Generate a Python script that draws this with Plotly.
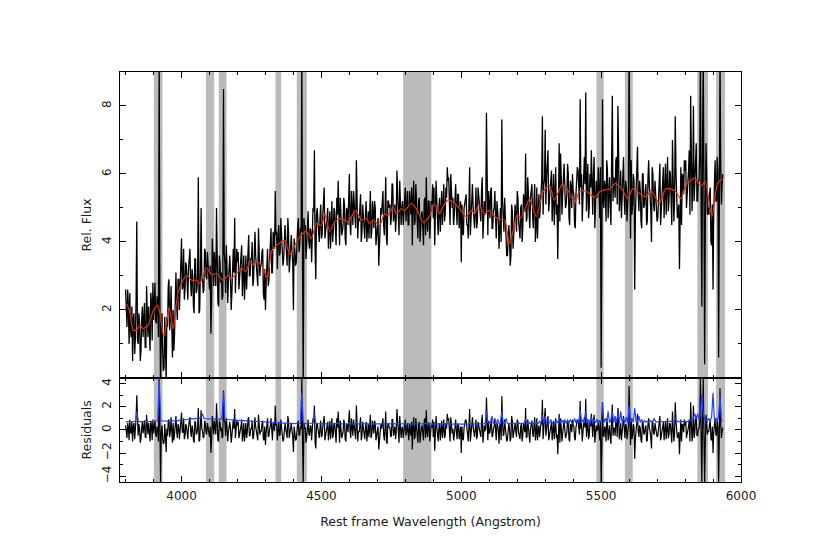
import plotly.graph_objects as go
from plotly.subplots import make_subplots

# spectrum sampling (Angstrom)
WAVE_START = 3800
PIX_STEP = 2.5   # flux / residual pixels
ERR_STEP = 5     # error spectrum pixels

# observed relative flux, 3800..5935 A in 2.5 A steps (one row = 100 A)
flux = [
    2.6, 1.7, 1.5, 2.6, 2.1, 1.0, 2.5, 1.4, 1.2, 2.1, 0.5, 1.7, 1.9, 0.7, 1.2, 2.3, 4.6, 1.1, 1.0, 1.9, 1.6, 0.5, 0.8, 1.7, 2.1, 1.2, 1.7, 2.2, 0.9, 0.9, 2.7, 1.3, 1.2, 2.1, 1.5, 0.8, 2.5, 2.2, 1.1, 2.8,
    1.7, 2.7, 2.8, 1.7, 1.6, 2.4, 2.2, 1.2, 9.5, 2.4, -0.5, 1.5, 1.9, 0.8, 0.2, 0.3, 1.8, 1.0, -0.1, 1.8, 1.5, 2.7, 2.9, 1.4, 1.7, 2.7, 0.9, 0.6, 2.0, 0.8, 1.3, 2.2, 3.1, 2.1, 1.7, 2.9, 2.9, 2.0, 2.7, 3.0,
    4.1, 2.6, 2.7, 3.8, 2.3, 2.6, 3.4, 3.3, 2.6, 2.3, 3.2, 3.4, 3.8, 2.8, 2.4, 3.2, 3.0, 2.1, 1.9, 3.5, 3.5, 2.5, 2.6, 3.0, 5.9, 1.9, 2.0, 3.2, 5.0, 3.0, 2.9, 2.5, 2.6, 3.8, 3.7, 3.0, 2.9, 3.7, 3.3, 2.6,
    2.6, 3.3, 1.3, 2.3, 4.1, 3.5, 2.7, 3.7, 3.2, 2.7, 5.0, 3.1, 2.2, 2.1, 3.6, 3.4, 2.8, 3.1, 2.3, 2.4, 8.5, 3.7, 3.4, 2.5, 3.9, 3.3, 2.2, 2.8, 3.3, 3.6, 3.0, 2.0, 2.5, 3.3, 3.8, 3.1, 4.7, 2.5, 3.5, 3.8,
    3.4, 3.7, 2.6, 2.9, 3.4, 3.5, 3.9, 2.4, 2.9, 3.6, 2.3, 3.0, 3.6, 2.6, 3.1, 4.0, 4.2, 3.0, 3.0, 3.5, 3.5, 4.0, 2.7, 2.9, 3.9, 4.3, 3.6, 3.2, 2.9, 2.7, 4.4, 3.7, 3.0, 3.3, 3.3, 3.7, 3.8, 2.5, 2.3, 3.2,
    2.0, 2.8, 3.5, 3.8, 2.7, 2.9, 3.5, 3.8, 4.4, 3.1, 3.1, 4.3, 4.1, 3.8, 5.5, 4.2, 4.3, 3.2, 4.1, 4.5, 3.6, 3.7, 4.7, 4.2, 3.9, 3.3, 3.5, 4.4, 4.5, 4.1, 3.6, 3.3, 4.7, 4.3, 3.1, 3.4, 3.9, 4.2, 3.7, 3.4,
    2.0, 4.1, 3.8, 3.3, 3.4, 4.4, 4.4, 4.7, 3.7, 3.9, 4.4, 4.3, 9.5, 3.5, -0.3, 4.7, 4.4, 4.5, 3.5, 3.9, 4.8, 4.9, 4.0, 3.8, 4.4, 4.3, 3.4, 4.0, 5.0, 4.9, 6.7, 3.7, 2.9, 4.8, 5.0, 4.6, 4.2, 4.0, 4.7, 5.1,
    4.1, 4.2, 4.8, 5.1, 5.6, 4.1, 4.5, 4.5, 4.7, 5.0, 3.8, 4.6, 4.9, 3.8, 4.3, 5.2, 4.0, 4.3, 5.0, 4.9, 4.4, 3.9, 5.3, 4.8, 5.8, 4.5, 3.9, 5.3, 4.8, 4.2, 4.3, 4.5, 5.3, 5.1, 4.1, 3.9, 5.0, 4.9, 4.5, 5.2,
    6.0, 4.5, 4.2, 5.5, 4.9, 4.5, 5.5, 5.1, 4.7, 4.4, 6.4, 5.3, 4.1, 4.7, 4.6, 5.0, 5.4, 4.0, 4.3, 5.1, 4.7, 4.4, 4.1, 4.8, 5.2, 4.0, 4.8, 4.9, 4.1, 4.6, 5.5, 4.1, 4.3, 5.2, 4.6, 4.4, 5.2, 5.0, 3.9, 4.1,
    4.3, 4.7, 3.3, 3.9, 4.1, 5.0, 4.8, 5.3, 5.5, 4.5, 4.2, 4.9, 5.9, 4.1, 3.9, 5.2, 5.2, 5.0, 5.1, 4.5, 4.7, 5.7, 5.7, 4.6, 4.8, 5.1, 4.3, 4.7, 6.1, 5.4, 4.6, 4.2, 5.8, 5.3, 4.5, 5.0, 5.2, 4.5, 4.9, 5.5,
    5.6, 4.6, 4.9, 5.5, 4.5, 4.5, 5.5, 5.0, 4.8, 5.6, 3.9, 5.3, 5.8, 4.5, 4.6, 5.7, 5.1, 4.7, 4.1, 5.2, 5.3, 4.0, 4.5, 4.8, 4.9, 4.4, 3.9, 5.2, 5.3, 4.2, 5.9, 4.6, 4.3, 5.2, 5.2, 4.1, 4.6, 5.2, 5.1, 5.7,
    4.7, 5.6, 3.9, 4.8, 5.8, 5.2, 4.6, 4.2, 5.0, 5.3, 4.3, 4.8, 5.5, 4.5, 5.0, 5.7, 4.6, 4.8, 5.6, 5.3, 6.2, 5.8, 5.9, 4.8, 4.5, 6.0, 5.5, 5.0, 5.3, 4.5, 4.8, 5.4, 5.7, 5.0, 4.5, 5.4, 5.4, 4.4, 4.8, 5.2,
    3.4, 5.1, 4.3, 4.2, 5.0, 5.2, 5.4, 5.4, 4.5, 4.5, 4.1, 4.9, 6.2, 4.2, 4.8, 5.4, 5.7, 5.0, 4.5, 4.4, 4.9, 5.6, 4.4, 4.6, 5.6, 5.3, 5.3, 4.9, 4.6, 5.5, 5.9, 4.1, 4.6, 5.2, 4.8, 4.9, 7.8, 4.4, 4.2, 5.5,
    4.7, 4.7, 5.5, 5.6, 4.4, 4.4, 4.9, 5.0, 5.5, 4.1, 4.1, 5.2, 5.0, 4.6, 3.8, 5.0, 5.0, 4.0, 7.6, 5.2, 4.3, 4.3, 5.3, 4.7, 4.4, 3.6, 3.6, 4.5, 4.5, 4.1, 3.3, 3.6, 5.1, 4.9, 3.8, 4.2, 4.8, 5.1, 4.7, 4.3,
    5.5, 5.3, 4.6, 4.4, 4.1, 5.0, 5.1, 4.0, 4.4, 5.4, 5.2, 4.9, 6.6, 4.6, 4.7, 5.9, 5.3, 4.9, 4.4, 5.3, 5.7, 5.7, 4.8, 4.4, 5.2, 5.7, 4.0, 4.5, 5.6, 4.1, 4.9, 5.4, 4.7, 5.2, 5.8, 5.8, 7.7, 4.8, 5.7, 5.8,
    7.3, 5.1, 5.9, 6.2, 6.7, 4.9, 5.3, 5.4, 5.7, 6.1, 4.6, 5.6, 6.0, 4.5, 5.2, 6.2, 4.8, 5.1, 3.5, 6.0, 6.9, 4.6, 6.6, 5.9, 4.8, 5.4, 6.0, 6.3, 5.7, 5.0, 5.1, 5.4, 6.3, 6.0, 4.7, 4.5, 5.8, 5.6, 5.0, 6.0,
    5.5, 5.4, 4.5, 4.4, 5.4, 5.8, 6.2, 6.1, 5.2, 5.1, 8.2, 5.6, 6.0, 4.6, 5.3, 6.0, 6.5, 5.7, 8.4, 4.9, 5.6, 6.3, 4.7, 5.0, 6.0, 5.6, 6.7, 5.2, 4.8, 6.0, 6.5, 4.4, 5.0, 5.8, 5.3, 5.5, 6.2, 4.8, 4.7, 6.2,
    0.3, 4.0, 8.2, 5.2, 5.0, 5.8, 5.6, 4.6, 6.4, 6.1, 4.7, 5.4, 5.9, 5.0, 4.5, 6.4, 8.3, 5.2, 5.9, 5.8, 5.3, 6.4, 6.5, 5.1, 8.0, 6.6, 4.9, 5.3, 6.1, 4.7, 5.2, 5.9, 6.5, 5.3, 4.8, 5.8, 5.6, 4.6, 5.2, 5.6,
    9.5, 5.2, 4.1, 6.4, 4.8, 5.1, 6.0, 5.8, 2.6, 4.8, 5.8, 6.0, 6.8, 5.4, 4.9, 5.8, 5.5, 4.6, 4.4, 6.0, 6.0, 5.0, 5.1, 5.5, 5.7, 4.5, 4.6, 5.9, 6.4, 5.6, 5.4, 4.9, 4.0, 6.2, 6.0, 5.1, 4.9, 5.8, 5.4, 4.6,
    4.6, 4.7, 5.4, 5.7, 6.3, 4.5, 5.0, 5.2, 5.7, 6.2, 4.7, 5.8, 6.3, 4.8, 5.5, 6.5, 4.9, 5.2, 6.1, 6.0, 5.3, 4.5, 7.0, 5.7, 4.6, 5.2, 7.7, 6.1, 5.5, 4.7, 4.9, 5.1, 3.2, 5.9, 6.2, 4.5, 6.0, 5.9, 5.4, 6.4,
    6.1, 6.4, 5.0, 5.3, 5.9, 6.1, 6.7, 4.8, 8.3, 6.4, 4.9, 5.7, 8.0, 5.2, 5.7, 6.7, 6.9, 5.2, 5.2, 5.8, 5.8, 6.5, 9.5, 5.1, 2.1, 6.8, 9.5, 5.5, 0.4, 4.8, 6.9, 5.8, 4.8, 5.0, 4.8, 5.4, 5.6, 4.0, 3.9, 5.1,
    2.6, 4.9, 6.4, 6.4, 5.2, 5.2, 6.5, 6.0, 0.6, 4.9, 9.5, 6.3, 5.1, 5.7, 6.0,
]

# normalised residuals on the same 2.5 A grid
resid = [
    0.4, -0.5, -0.7, 0.6, 0.2, -0.9, 0.9, -0.2, -0.3, 0.7, -1.0, 0.3, 0.6, -0.8, -0.2, 1.0, 3.0, -0.4, -0.5, 0.5, 0.1, -1.1, -0.8, 0.2, 0.7, -0.3, 0.3, 0.8, -0.6, -0.7, 1.3, -0.2, -0.4, 0.6, -0.1, -1.0, 0.8, 0.4, -0.9, 0.9,
    -0.3, 0.7, 0.8, -0.4, -0.6, 0.3, 0.1, -1.0, 4.6, 0.6, -4.6, -0.2, 0.4, -0.7, -1.2, -1.1, 0.5, -0.5, -1.9, 0.1, -0.5, 0.8, 0.9, -0.6, -0.2, 1.1, -0.8, -1.1, 0.6, -0.9, -0.4, 0.4, 1.2, -0.1, -0.7, 0.5, 0.3, -0.8, -0.1, 0.3,
    1.5, -0.2, -0.2, 1.0, -0.8, -0.5, 0.5, 0.3, -0.5, -0.8, 0.3, 0.6, 1.1, -0.1, -0.6, 0.4, 0.1, -0.9, -1.1, 0.7, 0.7, -0.4, -0.3, 0.2, 1.9, -1.0, -0.9, 0.5, 1.7, 0.1, -0.1, -0.7, -0.6, 0.8, 0.6, -0.3, -0.4, 0.6, 0.2, -0.6,
    -0.6, 0.3, -2.0, -0.9, 1.2, 0.5, -0.4, 0.8, 0.2, -0.4, 2.3, 0.1, -0.9, -1.0, 0.8, 0.6, -0.1, 0.2, -0.7, -0.6, 3.4, 0.9, 0.6, -0.5, 1.0, 0.3, -1.0, -0.2, 0.4, 0.7, 0.1, -1.1, -0.5, 0.4, 0.9, 0.1, 1.8, -0.7, 0.5, 0.8,
    0.4, 0.7, -0.7, -0.4, 0.2, 0.3, 0.9, -1.0, -0.3, 0.6, -1.0, -0.2, 0.6, -0.7, -0.2, 0.9, 1.1, -0.5, -0.5, 0.1, 0.1, 0.8, -0.8, -0.6, 0.7, 1.1, 0.3, -0.3, -0.6, -0.9, 1.3, 0.4, -0.4, -0.1, -0.1, 0.5, 0.8, -0.8, -0.9, 0.3,
    -1.3, -0.2, 0.8, 1.0, -0.6, -0.5, 0.1, 0.3, 1.0, -0.8, -0.9, 0.6, 0.4, -0.1, 2.1, 0.4, 0.5, -0.9, 0.2, 0.7, -0.5, -0.4, 0.9, 0.2, -0.2, -1.0, -0.8, 0.5, 0.6, 0.1, -0.4, -0.7, 1.2, 0.8, -0.7, -0.3, 0.3, 0.6, -0.1, -0.6,
    -1.9, 0.3, -0.2, -0.9, -0.8, 0.5, 0.5, 0.8, -0.5, -0.4, 0.3, 0.1, 4.6, -1.0, -4.6, 0.6, 0.1, 0.2, -1.1, -0.6, 0.7, 0.9, -0.3, -0.5, 0.4, 0.3, -0.9, -0.2, 1.0, 0.7, 2.1, -1.1, -1.6, 0.4, 0.6, 0.1, -0.4, -0.7, 0.2, 0.8,
    -0.6, -0.5, 0.3, 0.6, 1.2, -0.9, -0.4, -0.2, 0.2, 0.7, -0.9, 0.3, 0.8, -0.8, -0.1, 1.0, -0.7, -0.4, 0.6, 0.5, -0.3, -1.1, 1.0, 0.2, 1.6, -0.3, -1.1, 0.8, 0.1, -0.7, -0.5, -0.2, 0.9, 0.6, -0.8, -1.0, 0.5, 0.4, -0.2, 0.9,
    1.7, -0.2, -0.7, 1.0, 0.2, -0.5, 0.9, 0.3, -0.3, -0.8, 2.1, 0.6, -1.0, -0.1, -0.2, 0.4, 1.1, -0.9, -0.5, 0.7, 0.1, -0.4, -0.8, 0.2, 0.7, -1.0, 0.3, 0.5, -0.6, 0.1, 1.3, -0.7, -0.4, 0.8, -0.1, -0.3, 0.8, 0.6, -0.9, -0.6,
    -0.3, 0.3, -1.7, -0.9, -0.6, 0.5, 0.1, 0.8, 1.0, -0.4, -0.9, 0.1, 1.6, -1.0, -1.2, 0.6, 0.5, 0.2, 0.2, -0.6, -0.5, 0.9, 0.9, -0.5, -0.2, 0.3, -0.8, -0.2, 1.8, 0.7, -0.4, -1.1, 1.2, 0.4, -0.7, 0.1, 0.3, -0.7, -0.1, 0.8,
    0.9, -0.5, -0.2, 0.6, -0.8, -0.9, 0.5, -0.2, -0.5, 0.7, -1.7, 0.3, 1.1, -0.8, -0.6, 1.0, 0.1, -0.4, -1.1, 0.5, 0.7, -1.1, -0.3, 0.2, 0.4, -0.3, -0.9, 0.8, 1.0, -0.7, 1.7, -0.2, -0.6, 0.6, 0.6, -1.0, -0.4, 0.4, 0.2, 0.9,
    -0.6, 0.7, -1.8, -0.4, 1.2, 0.3, -0.4, -1.0, 0.2, 0.6, -0.9, -0.2, 0.8, -0.7, -0.1, 0.9, -0.7, -0.5, 0.6, 0.1, 1.4, 0.8, 1.0, -0.6, -1.0, 1.1, 0.4, -0.3, 0.1, -0.9, -0.5, 0.4, 0.9, -0.1, -0.8, 0.5, 0.5, -0.8, -0.2, 0.3,
    -2.0, 0.3, -0.7, -0.9, 0.2, 0.5, 0.9, 0.8, -0.3, -0.4, -1.0, 0.1, 1.8, -1.0, -0.2, 0.6, 1.1, 0.2, -0.5, -0.6, 0.1, 0.9, -0.8, -0.5, 0.7, 0.3, 0.3, -0.2, -0.6, 0.7, 1.3, -1.1, -0.4, 0.4, -0.1, 0.1, 2.8, -0.7, -0.9, 0.8,
    -0.3, -0.2, 0.8, 1.0, -0.6, -0.5, 0.1, 0.3, 1.0, -0.8, -0.9, 0.6, 0.4, -0.1, -1.2, 0.4, 0.5, -0.9, 2.9, 0.7, -0.5, -0.4, 0.9, 0.2, -0.2, -1.0, -0.8, 0.5, 0.6, 0.1, -1.0, -0.7, 1.2, 0.8, -0.7, -0.3, 0.3, 0.6, -0.1, -0.6,
    0.9, 0.7, -0.2, -0.4, -0.8, 0.3, 0.5, -1.0, -0.5, 0.6, 0.3, -0.2, 1.9, -0.7, -0.6, 0.9, 0.1, -0.5, -1.1, 0.1, 0.7, 0.8, -0.3, -0.6, 0.4, 1.1, -0.9, -0.3, 1.0, -0.9, -0.1, 0.4, -0.6, -0.1, 0.6, 0.5, 2.6, -0.8, 0.2, 0.3,
    1.9, -0.5, 0.3, 0.6, 1.2, -0.9, -0.4, -0.2, 0.2, 0.7, -0.9, 0.3, 0.8, -0.8, -0.1, 1.0, -0.7, -0.4, -2.1, 0.5, 1.4, -1.1, 1.0, 0.2, -1.0, -0.3, 0.4, 0.8, 0.1, -0.7, -0.5, -0.2, 0.9, 0.6, -0.8, -1.0, 0.5, 0.4, -0.2, 0.9,
    0.4, 0.3, -0.7, -0.9, 0.2, 0.5, 0.9, 0.8, -0.3, -0.4, 2.5, 0.1, 0.6, -1.0, -0.2, 0.6, 1.1, 0.2, 2.7, -0.6, 0.1, 0.9, -0.8, -0.5, 0.7, 0.3, 1.4, -0.2, -0.6, 0.7, 1.3, -1.1, -0.4, 0.4, -0.1, 0.1, 0.8, -0.7, -0.9, 0.8,
    -4.6, -1.6, 2.4, -0.4, -0.6, 0.3, 0.1, -1.0, 1.0, 0.6, -0.9, -0.2, 0.4, -0.7, -1.2, 0.9, 2.2, -0.5, 0.2, 0.1, -0.5, 0.8, 0.9, -0.6, 1.9, 1.1, -0.8, -0.3, 0.6, -0.9, -0.4, 0.4, 1.2, -0.1, -0.7, 0.5, 0.3, -0.8, -0.1, 0.3,
    3.8, -0.2, -1.3, 1.0, -0.8, -0.5, 0.5, 0.3, -2.5, -0.8, 0.3, 0.6, 1.4, -0.1, -0.6, 0.4, 0.1, -0.9, -1.1, 0.7, 0.7, -0.4, -0.3, 0.2, 0.4, -1.0, -0.9, 0.5, 1.0, 0.1, -0.1, -0.7, -1.6, 0.8, 0.6, -0.3, -0.4, 0.6, 0.2, -0.6,
    -0.6, -0.5, 0.3, 0.6, 1.2, -0.9, -0.4, -0.2, 0.2, 0.7, -0.9, 0.3, 0.8, -0.8, -0.1, 1.0, -0.7, -0.4, 0.6, 0.5, -0.3, -1.1, 1.6, 0.2, -1.0, -0.3, 2.4, 0.8, 0.1, -0.7, -0.5, -0.2, -2.1, 0.6, 0.9, -1.0, 0.5, 0.4, -0.2, 0.9,
    0.4, 0.7, -0.7, -0.4, 0.2, 0.3, 0.9, -1.0, 2.4, 0.6, -1.0, -0.2, 2.1, -0.7, -0.2, 0.9, 1.1, -0.5, -0.5, 0.1, 0.1, 0.8, 4.6, -0.6, -4.6, 1.1, 4.6, -0.3, -4.6, -0.9, 1.3, 0.4, -0.4, -0.1, -0.1, 0.5, 0.8, -0.8, -0.9, 0.3,
    -2.0, -0.2, 0.9, 1.0, -0.4, -0.5, 0.8, 0.3, -4.6, -0.8, 3.6, 0.6, -0.7, -0.1, 0.2,
]

# error spectrum (blue), 5 A steps
error = [
    0.7, 0.7, 0.72, 0.7, 0.7, 0.72, 0.75, 0.74, 1.6, 0.75, 0.72, 0.7, 0.72, 0.74, 0.8, 0.73, 0.72, 0.7, 0.72, 0.74,
    0.75, 0.74, 0.76, 0.78, 4.6, 0.8, 0.78, 0.77, 0.76, 0.75, 0.78, 0.76, 0.74, 0.76, 0.78, 0.76, 0.8, 0.78, 0.82, 0.85,
    0.85, 0.86, 0.9, 0.88, 0.92, 0.95, 1.0, 0.98, 0.96, 0.95, 0.97, 1.0, 1.05, 1.0, 1.1, 1.4, 1.0, 0.98, 0.97, 0.95,
    0.96, 0.94, 0.93, 0.95, 0.92, 0.93, 0.9, 0.9, 0.92, 1.2, 3.3, 0.92, 0.9, 0.88, 0.9, 0.87, 0.88, 0.86, 0.85, 0.84,
    0.84, 0.83, 0.82, 0.8, 0.82, 0.8, 0.79, 0.78, 0.8, 0.77, 0.76, 0.77, 0.75, 0.74, 0.75, 0.73, 0.72, 0.74, 0.72, 0.7,
    0.7, 0.68, 0.67, 0.68, 0.66, 0.65, 0.64, 0.63, 0.62, 0.62, 0.61, 0.6, 0.6, 0.6, 0.59, 0.58, 0.58, 0.57, 0.57, 0.56,
    0.56, 0.55, 0.56, 0.55, 0.56, 0.6, 3.2, 0.7, 0.56, 0.55, 0.55, 0.54, 0.55, 0.56, 0.6, 1.4, 0.58, 0.55, 0.54, 0.54,
    0.53, 0.54, 0.53, 0.53, 0.55, 0.53, 0.52, 0.53, 0.52, 0.52, 0.54, 0.53, 0.6, 0.52, 0.52, 0.53, 0.52, 0.55, 0.52, 0.52,
    0.6, 0.52, 0.53, 0.52, 0.52, 0.62, 0.52, 0.52, 0.52, 0.53, 0.52, 0.55, 0.52, 0.52, 0.53, 0.52, 0.52, 0.55, 0.52, 0.52,
    0.52, 0.52, 0.53, 0.52, 0.53, 0.52, 0.58, 0.52, 0.52, 0.52, 0.55, 0.52, 0.53, 0.52, 0.6, 0.52, 0.52, 0.52, 0.55, 0.52,
    0.55, 0.52, 0.52, 0.52, 0.53, 0.52, 0.52, 0.52, 0.52, 0.52, 0.52, 0.51, 0.52, 0.51, 0.52, 0.58, 0.51, 0.52, 0.51, 0.53,
    0.51, 0.52, 0.51, 0.53, 0.51, 0.51, 0.51, 0.55, 0.51, 0.51, 0.58, 0.51, 0.52, 0.5, 0.51, 0.5, 0.51, 0.5, 0.5, 0.5,
    0.5, 0.5, 0.5, 0.51, 0.5, 0.5, 0.6, 0.5, 0.5, 0.5, 0.5, 0.5, 0.55, 0.5, 0.51, 0.5, 0.52, 0.55, 1.6, 0.6,
    0.7, 0.55, 1.2, 0.58, 0.6, 0.55, 0.9, 0.56, 0.6, 1.6, 0.6, 0.55, 1.0, 0.56, 0.55, 0.56, 0.55, 0.6, 0.55, 0.56,
    0.55, 0.6, 0.55, 0.58, 0.55, 0.6, 0.9, 0.56, 0.7, 0.55, 0.65, 0.55, 0.6, 0.55, 0.62, 0.56, 0.75, 0.56, 1.3, 0.58,
    1.2, 0.6, 0.75, 0.58, 0.9, 0.58, 0.7, 0.58, 0.8, 0.6, 1.0, 0.6, 0.85, 0.6, 0.9, 0.6, 0.75, 0.6, 0.9, 0.62,
    0.6, 1.0, 0.62, 0.9, 0.65, 1.7, 0.65, 0.9, 0.62, 1.6, 0.62, 0.9, 0.6, 1.1, 0.6, 0.85, 0.62, 0.95, 0.6, 0.8,
    0.62, 2.3, 0.62, 1.0, 0.62, 1.6, 0.62, 0.9, 1.6, 0.62, 1.2, 0.62, 1.5, 0.62, 1.6, 0.62, 1.0, 0.62, 1.1, 0.62,
    2.1, 0.65, 1.0, 0.65, 1.9, 0.7, 0.65, 1.2, 0.65, 0.9, 0.65, 0.8, 0.66, 0.75, 0.68, 0.8, 0.7, 0.72, 1.0, 0.7,
    0.7, 0.72, 0.7, 0.75, 0.7, 0.72, 0.7, 0.74, 0.72, 0.75, 0.72, 0.8, 0.72, 1.0, 0.72, 0.75, 0.7, 0.72, 0.7, 0.72,
    0.72, 0.74, 0.72, 0.78, 0.9, 0.75, 1.2, 1.4, 1.0, 1.4, 0.8, 1.5, 3.1, 1.5, 0.9, 0.8, 0.75, 1.0, 0.78, 1.1,
    3.2, 0.8, 1.0, 0.8, 1.2, 2.9, 0.8, 0.75,
]

# best-fit model (red)
model_wave = [
    3803, 3815, 3827, 3839, 3851, 3863, 3881, 3899, 3914, 3922,
    3937, 3956, 3970, 3988, 4018, 4036, 4053, 4065, 4089, 4107,
    4125, 4149, 4166, 4178, 4196, 4214, 4230, 4244, 4256, 4268,
    4286, 4307, 4321, 4339, 4351, 4369, 4387, 4405, 4422, 4446,
    4464, 4482, 4500, 4512, 4530, 4547, 4571, 4595, 4622, 4643,
    4661, 4672, 4684, 4708, 4726, 4738, 4756, 4768, 4786, 4797,
    4821, 4839, 4865, 4887, 4905, 4922, 4934, 4952, 4970, 4994,
    5018, 5036, 5048, 5063, 5083, 5099, 5113, 5131, 5155, 5172,
    5187, 5199, 5214, 5244, 5268, 5292, 5315, 5333, 5361, 5381,
    5405, 5423, 5446, 5476, 5494, 5506, 5529, 5551, 5577, 5595,
    5613, 5631, 5660, 5678, 5708, 5732, 5762, 5785, 5803, 5833,
    5857, 5872, 5896, 5916, 5934,
]
model_flux = [
    2.19, 1.94, 1.40, 1.40, 1.55, 1.45, 1.55, 1.99, 2.14, 1.94,
    1.21, 2.06, 1.45, 2.53, 3.02, 2.87, 2.87, 2.77, 3.24, 3.04,
    3.07, 2.87, 3.02, 2.92, 3.07, 3.22, 3.12, 3.43, 3.33, 3.41,
    3.33, 2.92, 3.71, 3.90, 3.97, 4.05, 3.63, 3.90, 4.15, 4.31,
    4.10, 4.54, 4.49, 4.83, 4.31, 4.59, 4.69, 4.59, 4.93, 4.64,
    4.69, 4.54, 4.64, 4.49, 4.83, 4.78, 5.03, 4.83, 4.98, 4.93,
    5.13, 4.98, 4.57, 4.78, 5.13, 4.83, 5.03, 5.23, 5.18, 4.98,
    4.74, 4.93, 4.83, 5.10, 4.83, 4.93, 4.80, 4.69, 4.64, 3.95,
    4.39, 4.78, 4.71, 5.27, 4.74, 5.47, 5.67, 5.23, 5.70, 5.52,
    5.16, 5.49, 5.49, 5.32, 5.47, 5.52, 5.55, 5.72, 5.52, 5.27,
    5.57, 5.47, 5.32, 5.52, 5.13, 5.57, 5.52, 5.27, 5.67, 5.88,
    5.65, 5.78, 4.74, 5.72, 5.86,
]

# masked wavelength windows (grey bands)
mask_start = [3901, 4087, 4133, 4336, 4412, 4792, 5483, 5585, 5844, 5911]
mask_end = [3932, 4117, 4161, 4356, 4448, 4893, 5509, 5613, 5882, 5943]

FONT = "DejaVu Sans"
INK = "#1a1a1a"
FSIZE = 12

fig = make_subplots(rows=2, cols=1, shared_xaxes=True, vertical_spacing=0,
                    row_heights=[0.746, 0.254])

fig.add_trace(go.Scatter(x0=WAVE_START, dx=PIX_STEP, y=flux, mode="lines",
                         line=dict(color="black", width=1.3)), row=1, col=1)
fig.add_trace(go.Scatter(x=model_wave, y=model_flux, mode="lines",
                         line=dict(color="#e8320e", width=1.2, shape="spline", smoothing=0.6)),
              row=1, col=1)
fig.add_trace(go.Scatter(x0=WAVE_START, dx=PIX_STEP, y=resid, mode="lines",
                         line=dict(color="black", width=1.2)), row=2, col=1)
fig.add_trace(go.Scatter(x0=WAVE_START, dx=ERR_STEP, y=error, mode="lines",
                         line=dict(color="#2040ff", width=1.2)), row=2, col=1)

for a, b in zip(mask_start, mask_end):
    fig.add_shape(type="rect", xref="x", yref="paper", x0=a, x1=b, y0=0, y1=1,
                  fillcolor="#bababa", line_width=0, layer="below")

axis_common = dict(showline=True, linecolor="black", linewidth=1, mirror="ticks",
                   ticks="inside", ticklen=6, tickwidth=1, tickcolor="black",
                   showgrid=False, zeroline=False,
                   tickfont=dict(family=FONT, size=FSIZE, color=INK))

for r in (1, 2):
    fig.update_xaxes(range=[3780, 6000], tick0=4000, dtick=500, ticklabelstandoff=3,
                     minor=dict(ticks="inside", dtick=100, tick0=4000, ticklen=3,
                                tickcolor="black", showgrid=False),
                     row=r, col=1, **axis_common)

fig.update_xaxes(title=dict(text="Rest frame Wavelength (Angstrom)",
                            font=dict(family=FONT, size=12.5, color=INK), standoff=14),
                 row=2, col=1)

fig.update_yaxes(range=[0, 9], tickmode="array", tickvals=[2, 4, 6, 8], tickangle=-90,
                 ticklabelstandoff=3,
                 minor=dict(ticks="inside", tickvals=[1, 3, 5, 7], ticklen=3,
                            tickcolor="black", showgrid=False),
                 title=dict(text="Rel. Flux", font=dict(family=FONT, size=12.5, color=INK),
                            standoff=5),
                 row=1, col=1, **axis_common)
fig.update_yaxes(range=[-4.5, 4.5], tickmode="array", tickvals=[-4, -2, 0, 2, 4],
                 tickangle=-90, ticklabelstandoff=3,
                 minor=dict(ticks="inside", tickvals=[-3, -1, 1, 3], ticklen=3,
                            tickcolor="black", showgrid=False),
                 title=dict(text="Residuals", font=dict(family=FONT, size=12.5, color=INK),
                            standoff=5),
                 row=2, col=1, **axis_common)

# the page body adds an 8px offset, so the margins are shifted to compensate
fig.update_layout(
    width=831, height=542,
    margin=dict(l=112, r=98, t=64, b=68),
    paper_bgcolor="white", plot_bgcolor="white",
    showlegend=False,
    font=dict(family=FONT, color=INK),
)

fig.write_html("out.html")
